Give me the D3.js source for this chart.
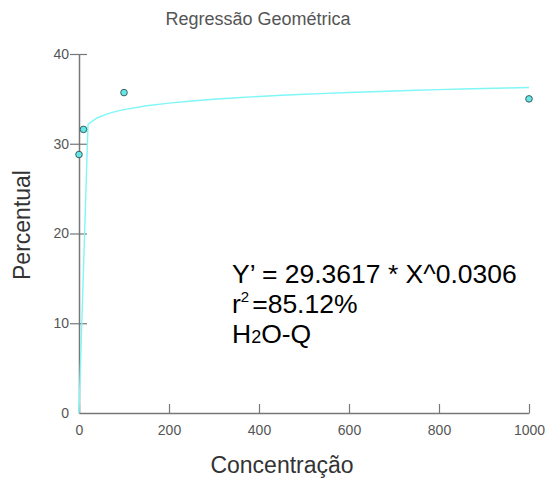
<!DOCTYPE html>
<html>
<head>
<meta charset="utf-8">
<script src="https://cdn.jsdelivr.net/npm/d3@7"></script>
<style>
  body { margin: 0; background: #fff; }
  svg { font-family: "Liberation Sans", Arial, sans-serif; }
</style>
</head>
<body>
<svg id="chart" width="545" height="483"></svg>
<script>
// observed points
const concX = [0, 10, 100, 1000];
const percY = [28.8, 31.6, 35.7, 35.0];

// fitted model Y' = a * X^b
const coefA = 29.3617;
const coefB = 0.0306;
const curveX = [0, 20, 40, 60, 80, 100, 150, 200, 250, 300, 350, 400, 450, 500,
  550, 600, 650, 700, 750, 800, 850, 900, 950, 1000];

const xTicks = [0, 200, 400, 600, 800, 1000];
const yTicks = [0, 10, 20, 30, 40];

const svg = d3.select("#chart");

const x = d3.scaleLinear().domain([0, 1000]).range([79, 529]);
const y = d3.scaleLinear().domain([0, 40]).range([413, 54]);

// title
svg.append("text")
  .attr("x", 258).attr("y", 25)
  .attr("text-anchor", "middle")
  .attr("font-size", 18).attr("fill", "#555")
  .text("Regressão Geométrica");

// x axis
const gx = svg.append("g").attr("transform", "translate(0,413)")
  .call(d3.axisBottom(x).tickValues(xTicks).tickFormat(d3.format("d"))
    .tickSizeInner(-9).tickSizeOuter(0).tickPadding(12));
gx.select(".domain").attr("stroke", "#777").attr("stroke-width", 1.5);
gx.selectAll(".tick line").attr("stroke", "#777").attr("stroke-width", 1.2);
gx.selectAll(".tick text").attr("font-size", 14).attr("fill", "#555");

// y axis
const gy = svg.append("g").attr("transform", "translate(79,0)")
  .call(d3.axisLeft(y).tickValues(yTicks).tickSize(0).tickPadding(10));
gy.select(".domain").attr("stroke", "#777").attr("stroke-width", 1.5);
gy.selectAll(".tick text").attr("font-size", 14).attr("fill", "#555");
gy.selectAll(".tick").filter(d => d > 0).append("line")
  .attr("x1", -9).attr("x2", 8)
  .attr("stroke", "#777").attr("stroke-width", 1.2);

// axis titles
svg.append("text")
  .attr("x", 282).attr("y", 473)
  .attr("text-anchor", "middle")
  .attr("font-size", 23).attr("fill", "#333")
  .text("Concentração");

svg.append("text")
  .attr("transform", "translate(30,225) rotate(-90)")
  .attr("text-anchor", "middle")
  .attr("font-size", 23).attr("fill", "#333")
  .text("Percentual");

// regression curve
const line = d3.line()
  .x(d => x(d))
  .y(d => y(coefA * Math.pow(d, coefB)));

svg.append("path")
  .datum(curveX)
  .attr("d", line)
  .attr("fill", "none")
  .attr("stroke", "#80f6f6")
  .attr("stroke-width", 1.4);

// points
svg.selectAll("circle.pt")
  .data(concX.map((c, i) => ({ c, p: percY[i] })))
  .join("circle")
  .attr("class", "pt")
  .attr("cx", d => x(d.c))
  .attr("cy", d => y(d.p))
  .attr("r", 3.3)
  .attr("fill", "#66e6e6")
  .attr("stroke", "#3d5f5f")
  .attr("stroke-width", 1);

// equation text
const eq = svg.append("g").attr("font-size", 26.5).attr("fill", "#000");
eq.append("text").attr("x", 232).attr("y", 283).text("Y’ = 29.3617 * X^0.0306");
const r2 = eq.append("text").attr("x", 232).attr("y", 313);
r2.append("tspan").text("r");
r2.append("tspan").attr("font-size", 15).attr("dy", -11).text("2");
r2.append("tspan").attr("dy", 11).attr("dx", 3).text("=85.12%");
const h2o = eq.append("text").attr("x", 232).attr("y", 343);
h2o.append("tspan").text("H");
h2o.append("tspan").attr("font-size", 18).text("2");
h2o.append("tspan").text("O-Q");
</script>
</body>
</html>
